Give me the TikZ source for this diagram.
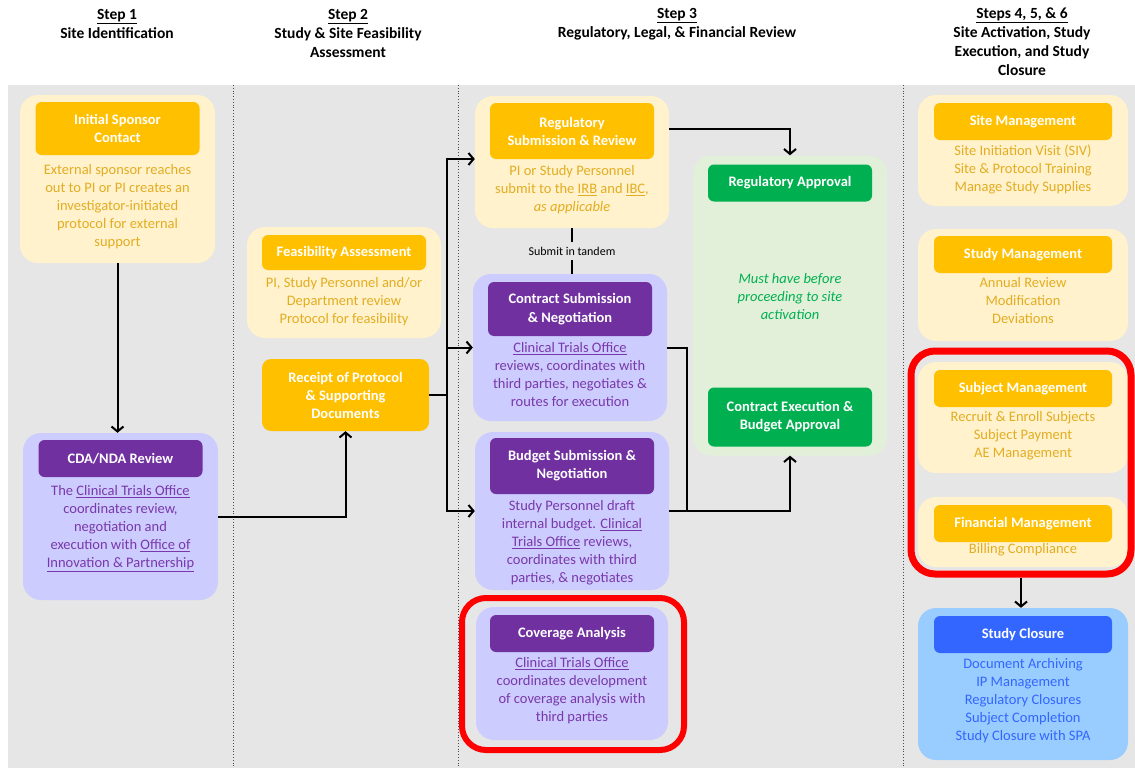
\documentclass[tikz,border=0pt]{standalone}
\usepackage{fontspec}
\setmainfont{Carlito}
\usetikzlibrary{positioning,arrows.meta}
\definecolor{bggray}{HTML}{E6E6E6}
\definecolor{ylight}{HTML}{FFF2CC}
\definecolor{ydark}{HTML}{FFC000}
\definecolor{ytext}{HTML}{E3AD22}
\definecolor{plight}{HTML}{CCCCFF}
\definecolor{pdark}{HTML}{7030A0}
\definecolor{ptext}{HTML}{7A38AA}
\definecolor{glight}{HTML}{E2F0D9}
\definecolor{gdark}{HTML}{00B050}
\definecolor{blight}{HTML}{99CCFF}
\definecolor{bdark}{HTML}{3366FF}
\newcommand{\bodyfont}{\fontsize{14.5}{18}\selectfont}
\tikzstyle{panel} = [
rectangle,
rounded corners=18pt,
inner sep=0pt,
minimum width=194pt
]
\tikzstyle{head} = [
rectangle,
rounded corners=6pt,
minimum width=164pt,
inner sep=2pt,
align=center,
text=white,
font=\bfseries\bodyfont
]
\tikzstyle{body} = [
align=center,
inner sep=0pt,
font=\bodyfont
]
\tikzstyle{heading} = [
align=center,
inner sep=0pt,
font=\bfseries\fontsize{15.5}{19}\selectfont
]
\tikzstyle{highlight} = [
rectangle,
rounded corners=24pt,
draw=red,
inner sep=0pt
]
\tikzstyle{arrow} = [
line width=2pt,
-{Straight Barb[length=5pt,width=12pt]}
]
\tikzstyle{link} = [
line width=2pt
]
\begin{document}
\begin{tikzpicture}[x=1pt,y=-1pt]
					\useasboundingbox (0,0) rectangle (1135,768);
					%Background and columns
					\fill[bggray] (8,85) rectangle (1135,768);
					\foreach \sx in {233,458,903}
						\draw[black!70,dotted,line width=0.8pt] (\sx,85) -- (\sx,768);
					%Headings
					\node[heading] (step1) at (117,24) {\underline{Step 1}\\Site Identification};
					\node[heading] (step2) at (348,33) {\underline{Step 2}\\Study \& Site Feasibility\\Assessment};
					\node[heading] (step3) at (677,24) {\underline{Step 3}\\Regulatory, Legal, \& Financial Review};
					\node[heading] (step4) at (1022,42) {\underline{Steps 4, 5, \& 6}\\Site Activation, Study\\Execution, and Study\\Closure};
					%Step 1
					\node[panel,fill=ylight,minimum width=195pt,minimum height=168pt] (sponsor) at (117.5,179) {};
					\node[head,fill=ydark,minimum height=53pt,below=7pt of sponsor.north] (sponsorH) {Initial Sponsor\\Contact};
					\node[body,text=ytext,below=9pt of sponsorH] (sponsorB) {External sponsor reaches\\out to PI or PI creates an\\investigator-initiated\\protocol for external\\support};
					\node[panel,fill=plight,minimum width=195pt,minimum height=167pt] (cda) at (120.5,516.5) {};
					\node[head,fill=pdark,minimum height=37pt,below=7pt of cda.north] (cdaH) {CDA/NDA Review};
					\node[body,text=ptext,below=8pt of cdaH] (cdaB) {The \underline{Clinical Trials Office}\\coordinates review,\\negotiation and\\execution with \underline{Office of}\\\underline{Innovation \& Partnership}};
					%Step 2
					\node[panel,fill=ylight,minimum height=111pt] (feas) at (344,282.5) {};
					\node[head,fill=ydark,minimum height=35pt,below=8pt of feas.north] (feasH) {Feasibility Assessment};
					\node[body,text=ytext,below=7pt of feasH] (feasB) {PI, Study Personnel and/or\\Department review\\Protocol for feasibility};
					\node[head,fill=ydark,minimum width=167pt,minimum height=72pt,rounded corners=9pt] (receipt) at (345.5,395) {Receipt of Protocol\\\& Supporting\\Documents};
					%Step 3
					\node[panel,fill=ylight,minimum height=132pt] (reg) at (572,162) {};
					\node[head,fill=ydark,minimum height=56pt,below=7pt of reg.north] (regH) {Regulatory\\Submission \& Review};
					\node[body,text=ytext,below=6pt of regH] (regB) {PI or Study Personnel\\submit to the \underline{IRB} and \underline{IBC},\\\textit{as applicable}};
					\node[panel,fill=plight,minimum height=147pt] (con) at (570,347.5) {};
					\node[head,fill=pdark,minimum height=54pt,below=8pt of con.north,font=\bfseries\fontsize{14.5}{19.5}\selectfont] (conH) {Contract Submission\\\& Negotiation};
					\node[body,text=ptext,below=6pt of conH] (conB) {\underline{Clinical Trials Office}\\reviews, coordinates with\\third parties, negotiates \&\\routes for execution};
					\node[panel,fill=plight,minimum height=158pt] (bud) at (572,511) {};
					\node[head,fill=pdark,minimum height=56pt,below=6pt of bud.north] (budH) {Budget Submission \&\\Negotiation};
					\node[body,text=ptext,below=6pt of budH] (budB) {Study Personnel draft\\internal budget. \underline{Clinical}\\\underline{Trials Office} reviews,\\coordinates with third\\parties, \& negotiates};
					\node[panel,fill=plight,minimum width=192pt,minimum height=133pt] (cov) at (572,673.5) {};
					\node[head,fill=pdark,minimum height=37pt,below=8pt of cov.north] (covH) {Coverage Analysis};
					\node[body,text=ptext,below=5pt of covH] (covB) {\underline{Clinical Trials Office}\\coordinates development\\of coverage analysis with\\third parties};
					\node[highlight,line width=6pt,minimum width=222pt,minimum height=152pt] (covHL) at (573,674) {};
					\node[panel,fill=glight,minimum height=300pt] (grn) at (790,305.5) {};
					\node[head,fill=gdark,minimum height=37pt,below=9pt of grn.north] (grnH) {Regulatory Approval};
					\node[body,text=gdark,font=\itshape\bodyfont] (grnB) at (790,297) {Must have before\\proceeding to site\\activation};
					\node[head,fill=gdark,minimum height=59pt,above=9pt of grn.south] (execH) {Contract Execution \&\\Budget Approval};
					%Steps 4, 5 and 6
					\node[panel,fill=ylight,minimum width=210pt,minimum height=111pt] (site) at (1023,150.5) {};
					\node[head,fill=ydark,minimum width=178pt,minimum height=37pt,below=8pt of site.north] (siteH) {Site Management};
					\node[body,text=ytext,below=4pt of siteH] (siteB) {Site Initiation Visit (SIV)\\Site \& Protocol Training\\Manage Study Supplies};
					\node[panel,fill=ylight,minimum width=210pt,minimum height=112pt] (study) at (1023,285) {};
					\node[head,fill=ydark,minimum width=178pt,minimum height=37pt,below=7pt of study.north] (studyH) {Study Management};
					\node[body,text=ytext,below=4pt of studyH] (studyB) {Annual Review\\Modification\\Deviations};
					\node[panel,fill=ylight,minimum width=210pt,minimum height=111pt] (subj) at (1023,417.5) {};
					\node[head,fill=ydark,minimum width=178pt,minimum height=37pt,below=8pt of subj.north] (subjH) {Subject Management};
					\node[body,text=ytext,below=4pt of subjH] (subjB) {Recruit \& Enroll Subjects\\Subject Payment\\AE Management};
					\node[panel,fill=ylight,minimum width=210pt,minimum height=70pt] (fin) at (1023,532) {};
					\node[head,fill=ydark,minimum width=178pt,minimum height=37pt,below=8pt of fin.north] (finH) {Financial Management};
					\node[body,text=ytext,below=1pt of finH] (finB) {Billing Compliance};
					\node[highlight,line width=7pt,minimum width=220pt,minimum height=223pt] (mgmtHL) at (1021,462.5) {};
					\node[panel,fill=blight,minimum width=210pt,minimum height=152pt] (close) at (1023,684) {};
					\node[head,fill=bdark,minimum width=178pt,minimum height=37pt,below=8pt of close.north] (closeH) {Study Closure};
					\node[body,text=bdark,below=5pt of closeH] (closeB) {Document Archiving\\IP Management\\Regulatory Closures\\Subject Completion\\Study Closure with SPA};
					%Coordinates
					\coordinate (fork) at (447,395);
					\coordinate (join) at (687,511);
					%Arrows
					\draw[arrow] (sponsor.south) -- (sponsor.south |- cda.north);
					\draw[arrow] (cda.east) -| (receipt.south);
					\draw[link] (receipt.east) -- (fork);
					\draw[arrow] (fork) |- ([yshift=3pt]reg.west);
					\draw[arrow] (fork) |- (con.west);
					\draw[arrow] (fork) |- (bud.west);
					\draw[link] (reg.south) -- node[fill=bggray,inner xsep=3pt,inner ysep=5pt,font=\fontsize{12}{14}\selectfont] (tandem) {Submit in tandem} (reg.south |- con.north);
					\draw[arrow] ([yshift=33pt]reg.east) -| (grn.north);
					\draw[link] (con.east) -| (join);
					\draw[arrow] (bud.east) -| (grn.south);
					\draw[arrow] (mgmtHL.south) -- (mgmtHL.south |- close.north);
				\end{tikzpicture}
\end{document}
